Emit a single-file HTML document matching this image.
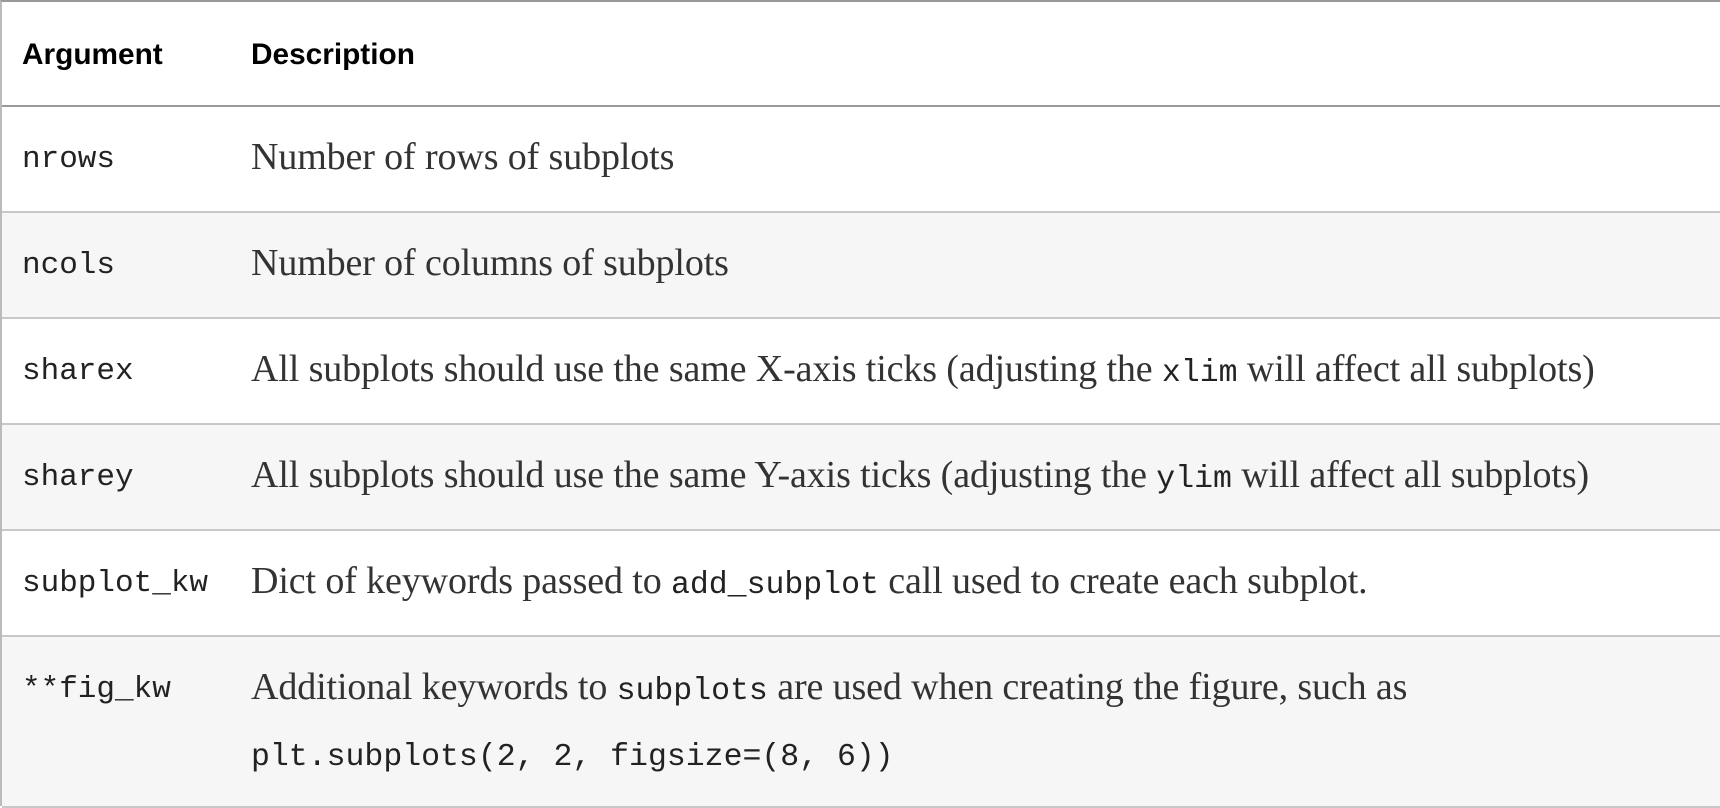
<!DOCTYPE html>
<html><head><meta charset="utf-8"><style>
html,body{margin:0;padding:0;width:1720px;height:808px;overflow:hidden;background:#fff;}
#t{position:absolute;left:0;top:0;width:1720px;height:806px;border-left:2px solid #bbb;border-top:2px solid #999;box-sizing:border-box;}
.row{position:absolute;left:0;width:1720px;box-sizing:border-box;border-bottom:2px solid #c8c8c8;}
.alt{background:#f6f6f6;}
.c1{position:absolute;left:20px;font-family:"Liberation Mono",monospace;font-size:31px;color:#222;white-space:nowrap;}
.c2{position:absolute;left:249px;font-family:"Liberation Serif",serif;font-size:38px;letter-spacing:-0.12px;color:#333;white-space:nowrap;}
.c2 code{font-family:"Liberation Mono",monospace;font-size:31.5px;letter-spacing:0;color:#222;}
.h{position:absolute;font-family:"Liberation Sans",sans-serif;font-weight:bold;font-size:29.8px;color:#000;}
</style></head><body>
<div id="t">
 <div class="row" style="top:0;height:105px;border-bottom:2px solid #999;">
  <div class="h" style="left:20px;top:36px;">Argument</div>
  <div class="h" style="left:249px;top:36px;">Description</div>
 </div>
 <div class="row" style="top:105px;height:106px;">
  <div class="c1" style="top:35px;">nrows</div>
  <div class="c2" style="top:28px;">Number of rows of subplots</div>
 </div>
 <div class="row alt" style="top:211px;height:106px;">
  <div class="c1" style="top:35px;">ncols</div>
  <div class="c2" style="top:28px;">Number of columns of subplots</div>
 </div>
 <div class="row" style="top:317px;height:106px;">
  <div class="c1" style="top:35px;">sharex</div>
  <div class="c2" style="top:28px;">All subplots should use the same X-axis ticks (adjusting the <code>xlim</code> will affect all subplots)</div>
 </div>
 <div class="row alt" style="top:423px;height:106px;">
  <div class="c1" style="top:35px;">sharey</div>
  <div class="c2" style="top:28px;">All subplots should use the same Y-axis ticks (adjusting the <code>ylim</code> will affect all subplots)</div>
 </div>
 <div class="row" style="top:529px;height:106px;">
  <div class="c1" style="top:35px;">subplot_kw</div>
  <div class="c2" style="top:28px;">Dict of keywords passed to <code>add_subplot</code> call used to create each subplot.</div>
 </div>
 <div class="row alt" style="top:635px;height:171px;">
  <div class="c1" style="top:35px;">**fig_kw</div>
  <div class="c2" style="top:28px;">Additional keywords to <code>subplots</code> are used when creating the figure, such as</div>
  <div class="c2" style="top:94px;"><code>plt.subplots(2, 2, figsize=(8, 6))</code></div>
 </div>
</div>
</body></html>
